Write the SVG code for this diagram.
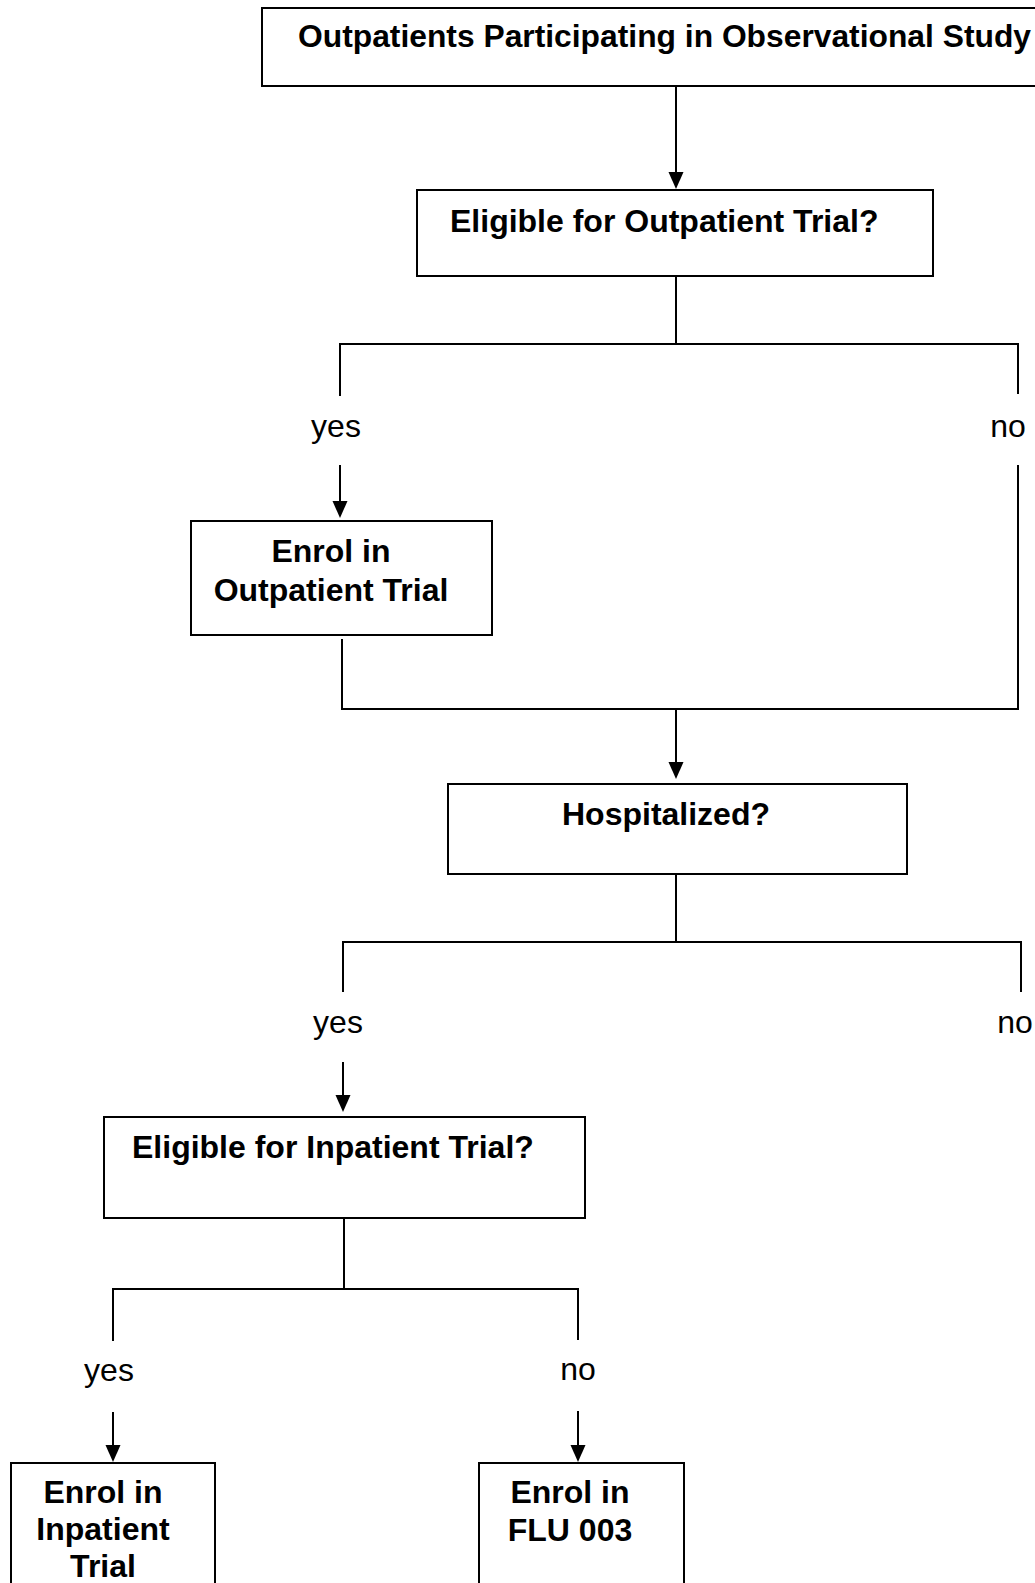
<svg xmlns="http://www.w3.org/2000/svg" width="1035" height="1583" viewBox="0 0 1035 1583">
<defs>
<style>
.box{fill:#fff;stroke:#000;stroke-width:2}
.t{font-family:"Liberation Sans",Arial,Helvetica,sans-serif;font-size:32px;font-weight:bold;fill:#000}
.l{font-family:"Liberation Sans",Arial,Helvetica,sans-serif;font-size:32px;fill:#000;text-anchor:middle}
.c{fill:none;stroke:#000;stroke-width:2}
.ah{fill:#000}
</style>
</defs>
<rect width="1035" height="1583" fill="#fff"/>
<g id="connectors">
<path class="c" d="M676,86 V176"/>
<path class="c" d="M676,276 V344 M340,344 H1018 M340,343 V396 M1018,343 V394"/>
<path class="c" d="M340,465 V505"/>
<path class="c" d="M1018,465 V710 M342,639 V710 M341,709 H1019"/>
<path class="c" d="M676,709 V766"/>
<path class="c" d="M676,874 V942 M343,942 H1022 M343,941 V992 M1021,941 V992"/>
<path class="c" d="M343,1062 V1099"/>
<path class="c" d="M344,1219 V1289 M112,1289 H579 M113,1288 V1341 M578,1288 V1340"/>
<path class="c" d="M113,1412 V1449"/>
<path class="c" d="M578,1411 V1449"/>
<polygon class="ah" points="668.5,172 683.5,172 676,189"/>
<polygon class="ah" points="332.5,501 347.5,501 340,518"/>
<polygon class="ah" points="668.5,762 683.5,762 676,779"/>
<polygon class="ah" points="335.5,1095 350.5,1095 343,1112"/>
<polygon class="ah" points="105.5,1445 120.5,1445 113,1462"/>
<polygon class="ah" points="570.5,1445 585.5,1445 578,1462"/>
</g>
<g id="n-start">
<rect class="box" x="262" y="8" width="800" height="78"/>
<text class="t" x="298" y="47" textLength="733" lengthAdjust="spacingAndGlyphs">Outpatients Participating in Observational Study</text>
</g>
<g id="n-elig-out">
<rect class="box" x="417" y="190" width="516" height="86"/>
<text class="t" x="450" y="232">Eligible for Outpatient Trial?</text>
</g>
<g id="lbl1">
<text class="l" x="336" y="437">yes</text>
<text class="l" x="1008" y="437">no</text>
</g>
<g id="n-enrol-out">
<rect class="box" x="191" y="521" width="301" height="114"/>
<text class="t" x="331" y="562" text-anchor="middle">Enrol in</text>
<text class="t" x="331" y="601" text-anchor="middle">Outpatient Trial</text>
</g>
<g id="n-hosp">
<rect class="box" x="448" y="784" width="459" height="90"/>
<text class="t" x="666" y="825" text-anchor="middle">Hospitalized?</text>
</g>
<g id="lbl2">
<text class="l" x="338" y="1033">yes</text>
<text class="l" x="1015" y="1033">no</text>
</g>
<g id="n-elig-in">
<rect class="box" x="104" y="1117" width="481" height="101"/>
<text class="t" x="132" y="1158">Eligible for Inpatient Trial?</text>
</g>
<g id="lbl3">
<text class="l" x="109" y="1381">yes</text>
<text class="l" x="578" y="1380">no</text>
</g>
<g id="n-enrol-in">
<rect class="box" x="11" y="1463" width="204" height="140"/>
<text class="t" x="103" y="1503" text-anchor="middle">Enrol in</text>
<text class="t" x="103" y="1540" text-anchor="middle">Inpatient</text>
<text class="t" x="103" y="1577" text-anchor="middle">Trial</text>
</g>
<g id="n-flu">
<rect class="box" x="479" y="1463" width="205" height="140"/>
<text class="t" x="570" y="1503" text-anchor="middle">Enrol in</text>
<text class="t" x="570" y="1541" text-anchor="middle">FLU 003</text>
</g>
</svg>
